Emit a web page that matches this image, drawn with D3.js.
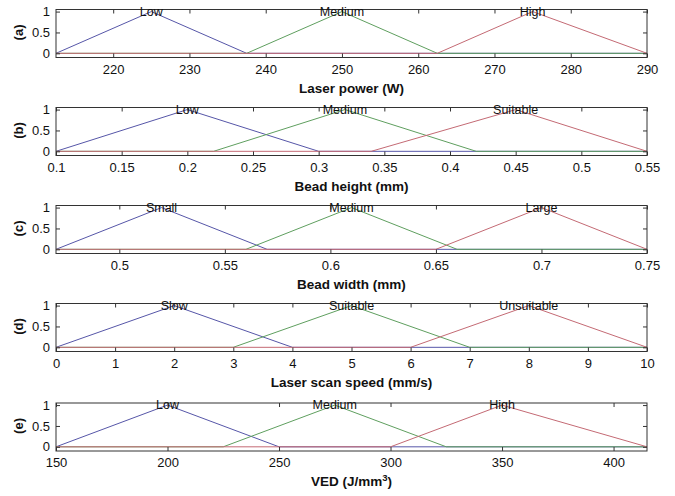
<!DOCTYPE html>
<html><head><meta charset="utf-8">
<script src="https://cdn.jsdelivr.net/npm/d3@7"></script>
<style>
body{margin:0;background:#fff;}
text{font-family:"Liberation Sans",Arial,sans-serif;}
</style></head>
<body><svg id="c" width="675" height="496"></svg>
<script>
// ---------- data ----------
const panelIds = ["(a)", "(b)", "(c)", "(d)", "(e)"];
const axisTitles = ["Laser power (W)", "Bead height (mm)", "Bead width (mm)", "Laser scan speed (mm/s)", "VED (J/mm3)"];
const domains = [[212.5, 290], [0.1, 0.55], [0.47, 0.75], [0, 10], [150, 415]];
const xTicks = [
  [220, 230, 240, 250, 260, 270, 280, 290],
  [0.1, 0.15, 0.2, 0.25, 0.3, 0.35, 0.4, 0.45, 0.5, 0.55],
  [0.5, 0.55, 0.6, 0.65, 0.7, 0.75],
  [0, 1, 2, 3, 4, 5, 6, 7, 8, 9, 10],
  [150, 200, 250, 300, 350, 400]
];
const mfNames = [
  ["Low", "Medium", "High"],
  ["Low", "Medium", "Suitable"],
  ["Small", "Medium", "Large"],
  ["Slow", "Suitable", "Unsuitable"],
  ["Low", "Medium", "High"]
];
// triangular membership parameters [a, b, c] for each set
const mfParams = [
  [[212.5, 225, 237.5], [237.5, 250, 262.5], [262.5, 275, 290]],
  [[0.1, 0.2, 0.3], [0.22, 0.32, 0.42], [0.34, 0.45, 0.55]],
  [[0.47, 0.52, 0.57], [0.56, 0.61, 0.66], [0.65, 0.70, 0.75]],
  [[0, 2, 4], [3, 5, 7], [6, 8, 10]],
  [[150, 200, 250], [225, 275, 325], [300, 350, 415]]
];
const yTicks = [0, 0.5, 1];

// ---------- drawing ----------
const colors = ["#5656a8", "#5f9f5f", "#c46a74"];
const svg = d3.select("#c");
const left = 56, right = 647, ph = 48;
const tops = [9.5, 107.5, 205.5, 303.5, 403];
const fmt = v => String(+v.toFixed(3));

panelIds.forEach((pid, i) => {
  const top = tops[i];
  const x = d3.scaleLinear().domain(domains[i]).range([left, right]);
  const y = d3.scaleLinear().domain([-0.1, 1.05]).range([top + ph, top]);
  const g = svg.append("g");

  // mf lines (full range, zeros included)
  const [d0, d1] = domains[i];
  mfParams[i].forEach((p, k) => {
    const pts = [];
    pts.push([d0, 0]);
    if (p[0] > d0) pts.push([p[0], 0]);
    pts.push([p[1], 1]);
    pts.push([p[2], 0]);
    if (p[2] < d1) pts.push([d1, 0]);
    g.append("path")
      .attr("d", d3.line().x(d => x(d[0])).y(d => y(d[1]))(pts))
      .attr("fill", "none").attr("stroke", colors[k]).attr("stroke-width", 1);
  });

  // box
  g.append("rect").attr("x", left).attr("y", top).attr("width", right - left).attr("height", ph)
    .attr("fill", "none").attr("stroke", "#333").attr("stroke-width", 1);

  // x axis (bottom labels), ticks inward on bottom and top
  const xb = g.append("g").attr("transform", `translate(0,${top + ph})`)
    .call(d3.axisBottom(x).tickValues(xTicks[i]).tickFormat(fmt).tickSize(-4).tickPadding(7));
  xb.select(".domain").remove();
  xb.selectAll("line").attr("stroke", "#333");
  xb.selectAll("text").attr("font-size", 13).attr("fill", "#111");
  const xt = g.append("g").attr("transform", `translate(0,${top})`)
    .call(d3.axisTop(x).tickValues(xTicks[i]).tickFormat("").tickSize(-4));
  xt.select(".domain").remove();
  xt.selectAll("line").attr("stroke", "#333");

  // y axis left and right
  const yl = g.append("g").attr("transform", `translate(${left},0)`)
    .call(d3.axisLeft(y).tickValues(yTicks).tickFormat(d3.format("")).tickSize(-4).tickPadding(6));
  yl.select(".domain").remove();
  yl.selectAll("line").attr("stroke", "#333");
  yl.selectAll("text").attr("font-size", 13).attr("fill", "#111");
  const yr = g.append("g").attr("transform", `translate(${right},0)`)
    .call(d3.axisRight(y).tickValues(yTicks).tickFormat("").tickSize(-4));
  yr.select(".domain").remove();
  yr.selectAll("line").attr("stroke", "#333");

  // mf names at the peaks
  mfParams[i].forEach((p, k) => {
    g.append("text").attr("x", x(p[1])).attr("y", top + 6)
      .attr("text-anchor", "middle").attr("font-size", 12.5).attr("fill", "#111")
      .text(mfNames[i][k]);
  });

  // panel id
  g.append("text").attr("transform", `translate(20,${y(0.5)}) rotate(-90)`)
    .attr("text-anchor", "middle").attr("dominant-baseline", "middle")
    .attr("font-size", 13).attr("font-weight", "bold").attr("fill", "#111").text(pid);

  // axis title
  const t = g.append("text").attr("x", (left + right) / 2).attr("y", top + ph + 35)
    .attr("text-anchor", "middle").attr("font-size", 13.5).attr("font-weight", "bold").attr("fill", "#111");
  const title = axisTitles[i];
  if (title.endsWith("mm3)")) {
    t.append("tspan").text(title.slice(0, -2));
    t.append("tspan").attr("dy", -5).attr("font-size", 9.5).text("3");
    t.append("tspan").attr("dy", 5).text(")");
  } else {
    t.text(title);
  }
});
</script></body></html>
